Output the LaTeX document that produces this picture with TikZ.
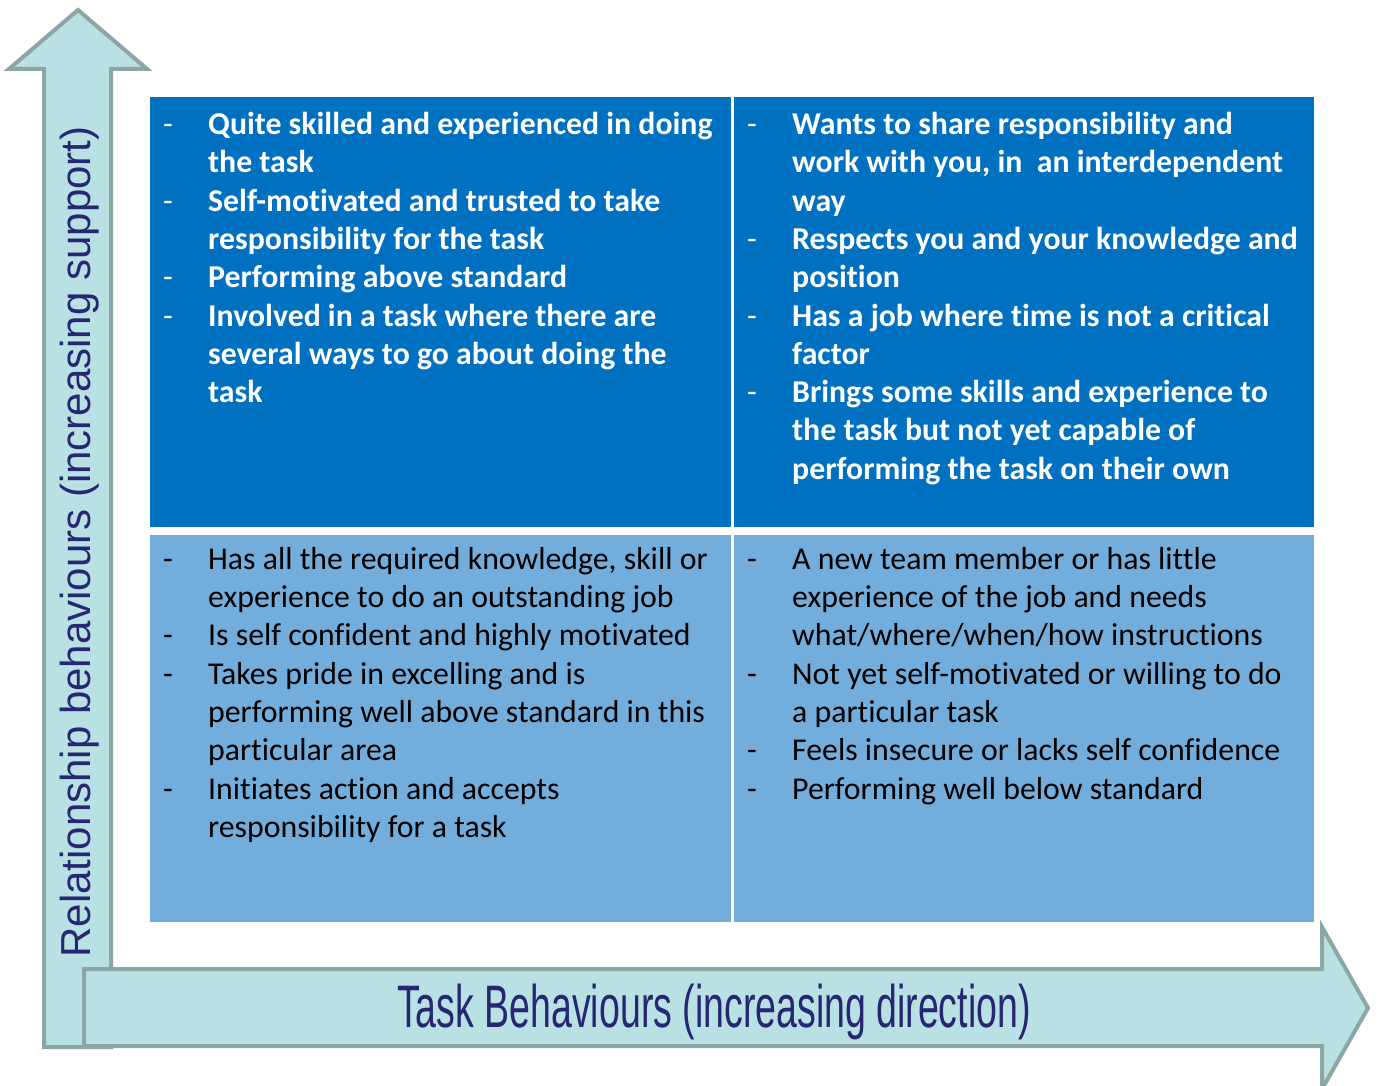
\documentclass[tikz,border=0pt]{standalone}
\usepackage{fontspec}
\setmainfont{Carlito}[Ligatures={NoCommon}]
\newfontfamily\arialfont{Liberation Sans}
\definecolor{darkq}{RGB}{0,112,192}
\definecolor{lightq}{RGB}{115,173,219}
\definecolor{arrfill}{RGB}{185,224,227}
\definecolor{arrline}{RGB}{140,166,167}
\definecolor{navy}{RGB}{38,38,115}
\newcommand{\qbi}{\makebox[45pt][l]{\mdseries -}}
\newcommand{\qci}{\hspace*{45pt}}
\tikzset{
  qtext/.style={anchor=north west, inner sep=0pt, align=left,
    font=\fontsize{31.8}{38.3}\selectfont},
  arrowshape/.style={draw=arrline, fill=arrfill, line width=4pt, line join=miter},
}
\begin{document}
\begin{tikzpicture}[x=1pt,y=-1pt]
\useasboundingbox (0,0) rectangle (1378,1086);
% quadrants
\fill[darkq] (150,97) rectangle (731,527);
\fill[darkq] (734,97) rectangle (1314,527);
\fill[lightq] (150,535) rectangle (731,922);
\fill[lightq] (734,535) rectangle (1314,922);
% arrows
\draw[arrowshape] (44,1047) -- (44,69) -- (9,69) -- (78,10) -- (147,69) -- (111,69) -- (111,1047) -- cycle;
\draw[arrowshape] (84,969) -- (1322,969) -- (1322,927) -- (1368,1008) -- (1322,1089) -- (1322,1046) -- (84,1046) -- cycle;
% labels
\node[rotate=90, text=navy, font=\arialfont\fontsize{42}{46}\selectfont, inner sep=0pt] (vlab) at (80,542) {Relationship behaviours (increasing support)};
\node[text=navy, font=\arialfont\fontsize{60}{66}\selectfont, inner sep=0pt] (hlab) at (714,1012) {\scalebox{0.625}[1]{Task Behaviours (increasing direction)}};
% texts
\node[qtext, text=white, font=\bfseries\fontsize{31.8}{38.3}\selectfont] (tltext) at (163,112) {%
\qbi Quite skilled and experienced in doing\\
\qci the task\\
\qbi Self-motivated and trusted to take\\
\qci responsibility for the task\\
\qbi Performing above standard\\
\qbi Involved in a task where there are\\
\qci several ways to go about doing the\\
\qci task};
\node[qtext, text=white, font=\bfseries\fontsize{31.8}{38.3}\selectfont] (trtext) at (747,112) {%
\qbi Wants to share responsibility and\\
\qci work with you, in\ \ an interdependent\\
\qci way\\
\qbi Respects you and your knowledge and\\
\qci position\\
\qbi Has a job where time is not a critical\\
\qci factor\\
\qbi Brings some skills and experience to\\
\qci the task but not yet capable of\\
\qci performing the task on their own};
\node[qtext, text=black] (bltext) at (163,547) {%
\qbi Has all the required knowledge, skill or\\
\qci experience to do an outstanding job\\
\qbi Is self confident and highly motivated\\
\qbi Takes pride in excelling and is\\
\qci performing well above standard in this\\
\qci particular area\\
\qbi Initiates action and accepts\\
\qci responsibility for a task};
\node[qtext, text=black] (brtext) at (747,547) {%
\qbi A new team member or has little\\
\qci experience of the job and needs\\
\qci what/where/when/how\ instructions\\
\qbi Not yet self-motivated or willing to do\\
\qci a particular task\\
\qbi Feels insecure or lacks self confidence\\
\qbi Performing\ well below standard};
\end{tikzpicture}
\end{document}
